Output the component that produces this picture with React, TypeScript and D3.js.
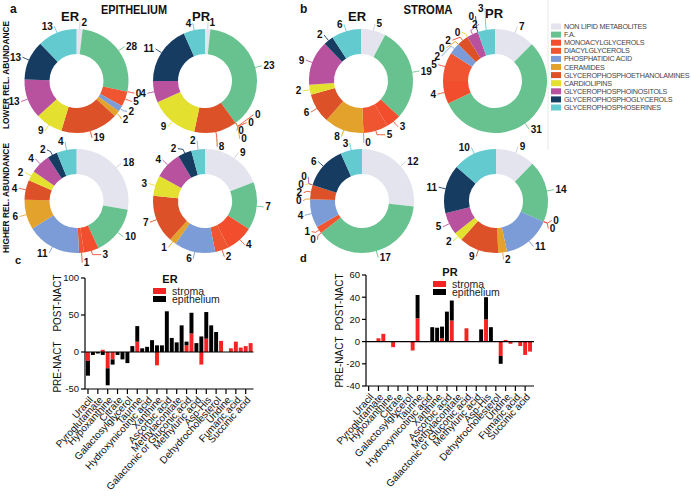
import React from 'react';
import * as d3 from 'd3';

const FONT = "'Liberation Sans', Arial, Helvetica, sans-serif";

// ---------- Donut data ----------
const lipidClasses = [
  'NON LIPID METABOLITES',
  'F.A.',
  'MONOACYLGLYCEROLS',
  'DIACYLGLYCEROLS',
  'PHOSPHATIDIC ACID',
  'CERAMIDES',
  'GLYCEROPHOSPHOETHANOLAMINES',
  'CARDIOLIPINS',
  'GLYCEROPHOSPHOINOSITOLS',
  'GLYCEROPHOSPHOGLYCEROLS',
  'GLYCEROPHOSPHOSERINES',
];
const classColors = [
  '#e3e4ee', '#67c28f', '#f24e2d', '#ee5530', '#7b9cd6', '#e2a22b',
  '#dc5127', '#e3e02f', '#b8519e', '#173c62', '#63cad0',
];

const epiERLower = [2, 28, 0, 5, 2, 2, 19, 9, 13, 13, 13];
const epiPRLower = [1, 23, 0, 0, 0, 0, 8, 9, 4, 11, 4];
const stromaERLower = [5, 19, 3, 5, 0, 8, 6, 2, 9, 2, 6];
const stromaPRLower = [7, 31, 4, 5, 2, 0, 2, 0, 2, 0, 3];
const epiERHigher = [18, 10, 3, 1, 11, 6, 4, 2, 4, 2, 4];
const epiPRHigher = [9, 7, 4, 2, 6, 1, 7, 3, 4, 2, 2];
const stromaERHigher = [12, 17, 0, 1, 4, 0, 2, 0, 0, 6, 3];
const stromaPRHigher = [9, 14, 0, 0, 11, 2, 9, 2, 5, 11, 10];

// ---------- Bar data ----------
const tickLabels = [
  'Uracil', 'Pyroglutamate', 'Hypoxanthine', 'Citrate', 'Galactosylglycerol',
  'Taurine', 'Hydroxynicotinic acid', 'Xanthine', 'Ascorbic acid', 'Methylaconitate',
  'Galactonic or Gluconic acid', 'Methyluric acid', 'Asp-His', 'Dehydrocholesterol',
  'Uridine', 'Fumaric acid', 'Succinic acid',
];
const erStroma = [-12, 0, 0, 3, -22, -10, 0, 0, 0, 0, 14, 0, 0, 0, -18, 0, 0, 0, 0, 0, 9, 25, 0, -17, 18, 0, 0, 15, 0, 5, 14, 6, 8, 12];
const erEpithelium = [-20, -4, -2, -4, -23, -7, -4, -10, -15, 8, 21, 5, 7, 16, 9, 9, 55, 19, 13, 36, 5, 28, 12, 21, 36, 36, 27, 0, 0, 0, 0, 0, 0, 0];
const prStroma = [0, 0, 3, 7, 0, -5, 0, 0, 0, -8, 21, 0, 0, 0, 0, 3, 0, 19, 0, 0, 12, 0, 0, 0, 20, 0, 0, -13, 1.5, -2, 0.5, -4, -12, -9];
const prEpithelium = [0, 0, 0, 0, 0, 0, 0, 0, 0, 0, 21, 0, 0, 13, 12.5, 10.5, 27, 18, 0, 0, 0, 0, 0, 11, 20, 13, 0, -7, 0, 0, 0, 0, 0, 0];
const erTicks = [-50, 0, 50, 100];
const prTicks = [-40, -20, 0, 20, 40, 60];

const RED = '#f52323';

function Donut({ cx, cy, values }: { cx: number; cy: number; values: number[] }) {
  const R = 52, r = 27, rr = R + 7;
  const arcs = d3.pie<number>().sort(null).value((d) => d).startAngle(0).endAngle(2 * Math.PI)(values);
  const arcGen = d3.arc<d3.PieArcDatum<number>>().innerRadius(r).outerRadius(R);
  const labels = arcs.map((a, i) => {
    const mid = (a.startAngle + a.endAngle) / 2;
    const s = Math.sin(mid), c = -Math.cos(mid);
    const right = s > 0.02 || (Math.abs(s) <= 0.02 && c < 0);
    return { i, s, c, right, ty: cy + c * rr, tx: cx + s * rr };
  });
  const gap = 8;
  for (const side of [true, false]) {
    const L = labels.filter((l) => l.right === side).sort((a, b) =>
      a.ty - b.ty !== 0 ? a.ty - b.ty : side ? a.i - b.i : b.i - a.i);
    for (let it = 0; it < 200; it++) {
      for (let k = 1; k < L.length; k++) {
        const g = L[k].ty - L[k - 1].ty;
        if (g < gap) {
          const sh = (gap - g) / 2;
          L[k - 1].ty -= sh;
          L[k].ty += sh;
        }
      }
    }
    for (const l of L) {
      const dy = l.ty - cy;
      if (Math.abs(dy) < rr) {
        const dx = Math.sqrt(rr * rr - dy * dy);
        const nx = cx + (side ? dx : -dx);
        l.tx = Math.abs(nx - l.tx) < 14 ? nx : l.tx;
      }
    }
  }
  return (
    <g>
      {arcs.map((a, i) => (
        <path key={i} d={arcGen(a) || ''} transform={`translate(${cx},${cy})`} fill={classColors[i]} />
      ))}
      {labels.map((l) => {
        const x0 = cx + l.s * R, y0 = cy + l.c * R;
        const x1 = cx + l.s * (R + 4), y1 = cy + l.c * (R + 4);
        const lc = l.i === 0 ? '#c9cad6' : classColors[l.i];
        return (
          <g key={l.i}>
            <polyline points={`${x0},${y0} ${x1},${y1} ${l.tx},${l.ty}`} fill="none" stroke={lc} strokeWidth={0.9} />
            <text x={l.tx + (l.right ? 1.5 : -1.5)} y={l.ty} dy="0.35em" textAnchor={l.right ? 'start' : 'end'}
              fontSize={10} fontWeight="bold" fill="#111">{values[l.i]}</text>
          </g>
        );
      })}
    </g>
  );
}

type BarProps = {
  stroma: number[]; epi: number[]; rangeStart: number; rangeEnd: number; axisX: number; endX: number;
  yDomain: [number, number]; yBottom: number; yTop: number; ticks: number[];
  title: string; legX: number; legY: number; axisTitleX: number; postY: number; preY: number;
};

function BarChart(p: BarProps) {
  const n = p.stroma.length;
  const x = d3.scaleBand<number>().domain(d3.range(n)).range([p.rangeStart, p.rangeEnd]).paddingInner(0.2).paddingOuter(0);
  const y = d3.scaleLinear().domain(p.yDomain).range([p.yBottom, p.yTop]);
  const rows = d3.range(n).map((i) => ({ stroma: p.stroma[i], epithelium: p.epi[i] }));
  const series = d3.stack<any>().keys(['stroma', 'epithelium']).offset(d3.stackOffsetDiverging)(rows as any);
  const colors = [RED, '#000'];
  const bw = x.bandwidth();
  const yMin = y(p.yDomain[0]);
  return (
    <g fontFamily={FONT}>
      {series.map((s, si) => (
        <g key={si} fill={colors[si]}>
          {s.map((d, i) => {
            const a = Math.min(d[0], d[1]), b = Math.max(d[0], d[1]);
            if (b - a === 0) return null;
            return <rect key={i} x={x(i)} y={y(b)} width={bw} height={y(a) - y(b)} />;
          })}
        </g>
      ))}
      <line x1={p.axisX} x2={p.endX} y1={y(0)} y2={y(0)} stroke="#000" strokeWidth={1.2} />
      <line x1={p.axisX} x2={p.axisX} y1={y(p.yDomain[1])} y2={yMin} stroke="#000" strokeWidth={1.2} />
      {p.ticks.map((t) => (
        <g key={t}>
          <line x1={p.axisX - 4} x2={p.axisX} y1={y(t)} y2={y(t)} stroke="#000" strokeWidth={1.2} />
          <text x={p.axisX - 6} y={y(t)} dy="0.35em" textAnchor="end" fontSize={9.5} fill="#111">{t}</text>
        </g>
      ))}
      <line x1={p.axisX} x2={p.endX} y1={yMin} y2={yMin} stroke="#000" strokeWidth={1.2} />
      {tickLabels.map((lab, k) => {
        const cxp = (x(k * 2) as number) + bw / 2;
        return (
          <g key={lab}>
            <line x1={cxp} x2={cxp} y1={yMin} y2={yMin + 5} stroke="#000" strokeWidth={1.2} />
            <text transform={`translate(${cxp + 3},${yMin + 9}) rotate(-48)`} dy="0.35em" textAnchor="end"
              fontSize={10} fill="#111">{lab}</text>
          </g>
        );
      })}
      <text transform={`translate(${p.axisTitleX},${p.postY}) rotate(-90)`} textAnchor="middle" dy="0.35em" fontSize={10} fill="#111">POST-NACT</text>
      <text transform={`translate(${p.axisTitleX},${p.preY}) rotate(-90)`} textAnchor="middle" dy="0.35em" fontSize={10} fill="#111">PRE-NACT</text>
      <text x={p.legX + 17} y={p.legY - 5.5} textAnchor="middle" fontSize={11} fontWeight="bold" fill="#111">{p.title}</text>
      <rect x={p.legX} y={p.legY} width={13} height={6} fill={RED} />
      <text x={p.legX + 19} y={p.legY + 3} dy="0.35em" fontSize={10.5} fill="#222">stroma</text>
      <rect x={p.legX} y={p.legY + 8} width={13} height={6} fill="#000" />
      <text x={p.legX + 19} y={p.legY + 11} dy="0.35em" fontSize={10.5} fill="#222">epithelium</text>
    </g>
  );
}

export default function App() {
  const upperY = 81, lowerY = 201;
  const cols = [76.5, 205, 361, 495];
  return (
    <svg width={691} height={498} style={{ position: 'absolute', left: 0, top: 0, background: '#fff' }} fontFamily={FONT}>
      <rect width={691} height={498} fill="#fff" />
      <text x={10} y={13} fontSize={12} fontWeight="bold" fill="#111">a</text>
      <text x={134} y={14} textAnchor="middle" fontSize={12} fontWeight="bold" fill="#111" textLength={66} lengthAdjust="spacingAndGlyphs">EPITHELIUM</text>
      <text x={300} y={13} fontSize={12} fontWeight="bold" fill="#111">b</text>
      <text x={428} y={14} textAnchor="middle" fontSize={12} fontWeight="bold" fill="#111" textLength={49} lengthAdjust="spacingAndGlyphs">STROMA</text>
      <text x={70} y={21} textAnchor="middle" fontSize={13} fontWeight="bold" fill="#111">ER</text>
      <text x={201} y={21} textAnchor="middle" fontSize={13} fontWeight="bold" fill="#111">PR</text>
      <text x={357} y={21} textAnchor="middle" fontSize={13} fontWeight="bold" fill="#111">ER</text>
      <text x={494} y={18} textAnchor="middle" fontSize={13} fontWeight="bold" fill="#111">PR</text>
      <text transform="translate(6,75) rotate(-90)" textAnchor="middle" dy="0.35em" fontSize={8.5} fontWeight="bold" fill="#111" textLength={108} lengthAdjust="spacingAndGlyphs">LOWER REL. ABUNDANCE</text>
      <text transform="translate(6,198) rotate(-90)" textAnchor="middle" dy="0.35em" fontSize={8.5} fontWeight="bold" fill="#111" textLength={110} lengthAdjust="spacingAndGlyphs">HIGHER REL. ABUNDANCE</text>

      <Donut cx={cols[0]} cy={upperY} values={epiERLower} />
      <Donut cx={cols[1]} cy={upperY} values={epiPRLower} />
      <Donut cx={cols[2]} cy={upperY} values={stromaERLower} />
      <Donut cx={cols[3]} cy={upperY} values={stromaPRLower} />
      <Donut cx={cols[0]} cy={lowerY} values={epiERHigher} />
      <Donut cx={cols[1]} cy={lowerY} values={epiPRHigher} />
      <Donut cx={cols[2] + 1} cy={lowerY} values={stromaERHigher} />
      <Donut cx={cols[3] + 1} cy={lowerY} values={stromaPRHigher} />

      <line x1={548} x2={548} y1={0} y2={150} stroke="#e8e8e8" strokeWidth={1} />
      {lipidClasses.map((name, i) => (
        <g key={name}>
          <rect x={551} y={23.5 + i * 8.1} width={10} height={6} fill={classColors[i]} />
          <text x={564} y={26.5 + i * 8.1} dy="0.35em" fontSize={7.2} letterSpacing={-0.25} fill="#444">{name}</text>
        </g>
      ))}

      <text x={15} y={264} fontSize={11} fontWeight="bold" fill="#111">c</text>
      <text x={300} y={262} fontSize={11} fontWeight="bold" fill="#111">d</text>

      <BarChart stroma={erStroma} epi={erEpithelium} rangeStart={86} rangeEnd={252.6} axisX={85} endX={253.5}
        yDomain={[-50, 100]} yBottom={389} yTop={278} ticks={erTicks} title="ER" legX={153} legY={288}
        axisTitleX={57} postY={303} preY={367} />
      <BarChart stroma={prStroma} epi={prEpithelium} rangeStart={366.7} rangeEnd={532} axisX={366} endX={534}
        yDomain={[-40, 60]} yBottom={386} yTop={275} ticks={prTicks} title="PR" legX={433} legY={281}
        axisTitleX={339} postY={302} preY={362} />
    </svg>
  );
}
